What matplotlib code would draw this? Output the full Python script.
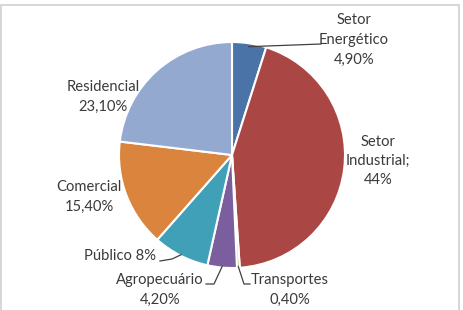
import numpy as np
import matplotlib
matplotlib.use("Agg")
import matplotlib.pyplot as plt
from matplotlib.patches import Rectangle

sectors = ["Setor Energético", "Setor Industrial", "Transportes", "Agropecuário",
           "Público", "Comercial", "Residencial"]
shares = [4.9, 44.0, 0.4, 4.2, 8.0, 15.4, 23.1]
label_texts = ["Setor\nEnergético\n4,90%", "Setor\nIndustrial;\n44%", "Transportes\n0,40%",
               "Agropecuário\n4,20%", "Público 8%", "Comercial\n15,40%", "Residencial\n23,10%"]
colors = ["#4A74A8", "#AA4644", "#8CB04F", "#7B5E9E", "#3FA0B8", "#DB843D", "#93A9CF"]

W, H = 464, 310
plt.rcParams["font.family"] = ["Lato", "DejaVu Sans"]

fig = plt.figure(figsize=(W / 100, H / 100), dpi=100)
ax = fig.add_axes([0, 0, 1, 1])

cx, cy, r = 232, H - 155, 113
wedges, _ = ax.pie(shares, colors=colors, startangle=90, counterclock=False,
                   center=(cx, cy), radius=r, frame=True,
                   wedgeprops=dict(edgecolor="white", linewidth=1.5))
ax.set_xlim(0, W)
ax.set_ylim(0, H)
ax.set_aspect("equal")
ax.axis("off")


def edge_point(w, frac=0.98):
    a = np.deg2rad((w.theta1 + w.theta2) / 2)
    return cx + frac * r * np.cos(a), cy + frac * r * np.sin(a)


fs = 10.6
# label centres (pixels from top-left)
label_pos = [(354, 40), (378, 161), (290, 290), (160, 290),
             (120, 256), (89, 197), (103, 97)]
for txt, (x, y) in zip(label_texts, label_pos):
    ax.text(x, H - y, txt, ha="center", va="center", fontsize=fs, color="#3A3A3A",
            linespacing=1.5)

# leader lines
lc = dict(color="#404040", linewidth=0.9)
px, py = edge_point(wedges[0], 0.97)
ax.plot([px, 321], [py, H - 44], **lc)
px, py = edge_point(wedges[2], 0.99)
ax.plot([px, 244, 250], [py, H - 284, H - 284], **lc)
px, py = edge_point(wedges[3], 0.99)
ax.plot([px, 214, 206], [py, H - 284, H - 284], **lc)
px, py = edge_point(wedges[4], 0.99)
ax.plot([px, 172, 160], [py, H - 259, H - 261], **lc)

fig.add_artist(Rectangle((1.5 / W, -0.1), (459 - 1.5) / W, 1.1 - 5 / H,
                         transform=fig.transFigure, fill=False,
                         edgecolor="#D0D0D0", linewidth=1.2))

fig.savefig("out.png", dpi=100)
